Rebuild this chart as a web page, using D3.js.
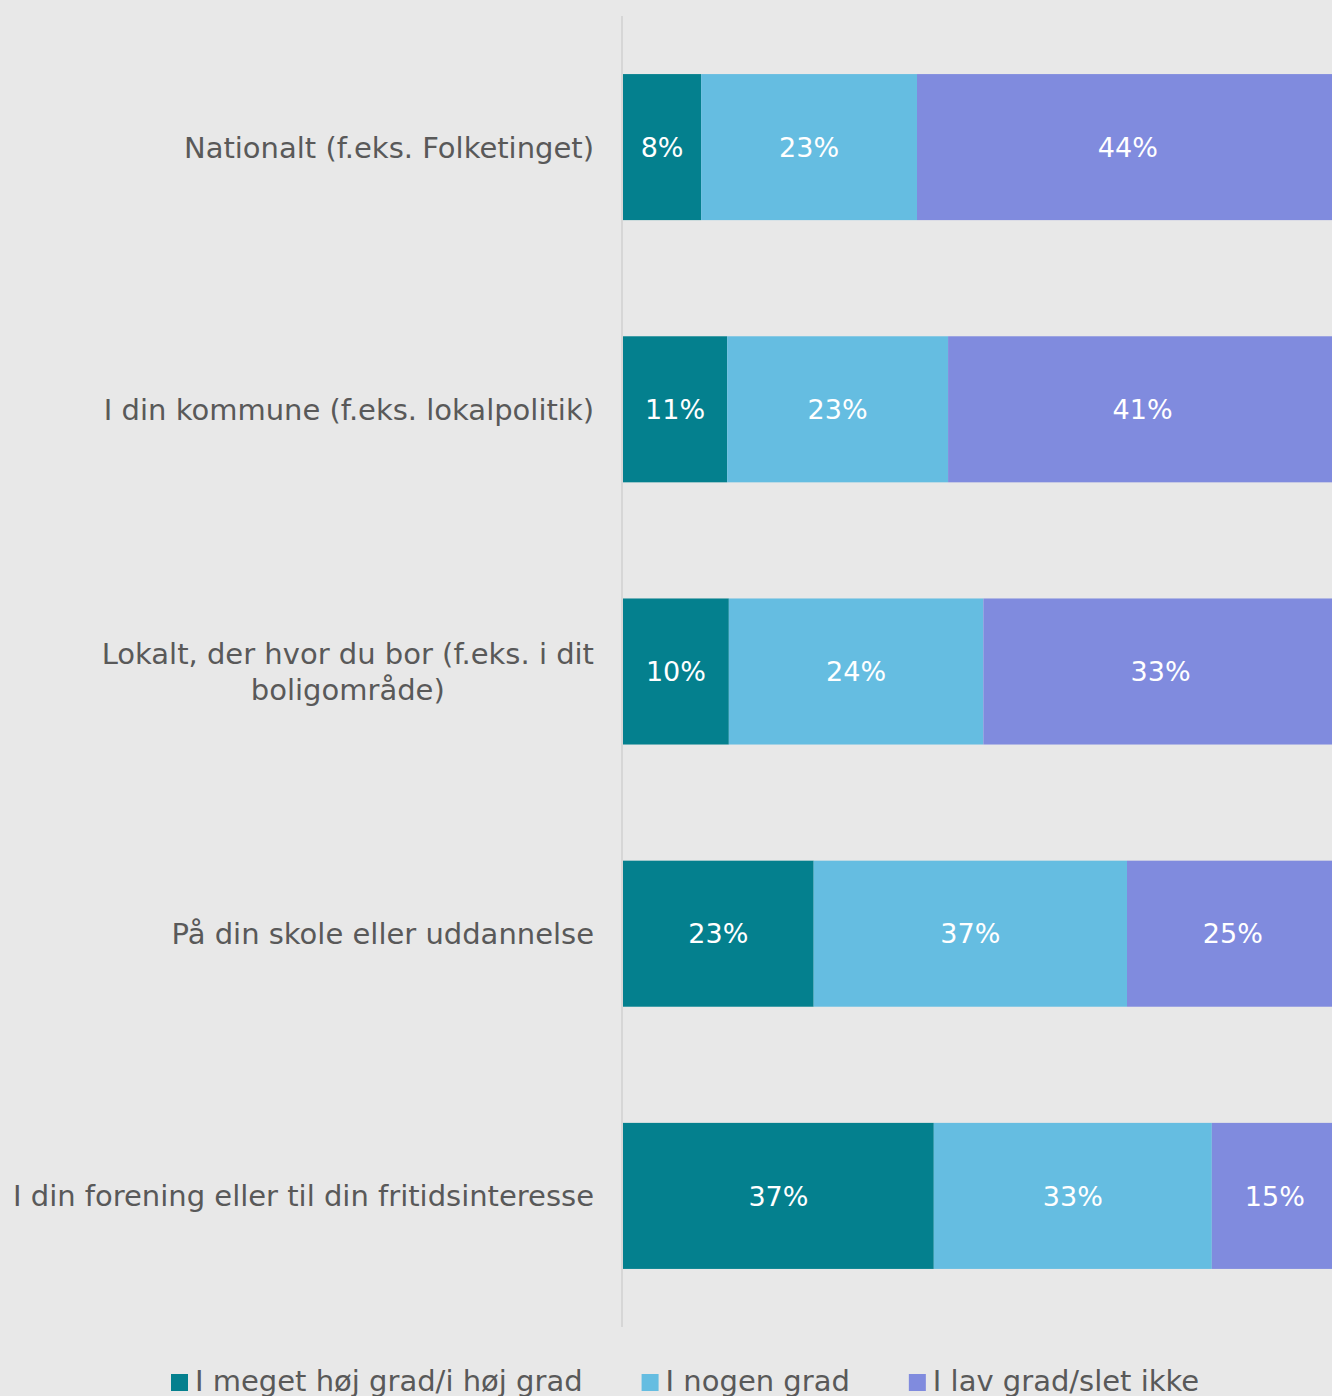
<!DOCTYPE html>
<html>
<head>
<meta charset="utf-8">
<script src="https://cdn.jsdelivr.net/npm/d3@7"></script>
<style>
  html, body { margin: 0; padding: 0; background: #e8e8e8; overflow: hidden; }
  svg { display: block; font-family: "DejaVu Sans", sans-serif; }
</style>
</head>
<body>
<div id="chart"></div>
<script>
// categories (top to bottom)
var categories = [
  "Nationalt (f.eks. Folketinget)",
  "I din kommune (f.eks. lokalpolitik)",
  "Lokalt, der hvor du bor (f.eks. i dit|boligområde)",
  "På din skole eller uddannelse",
  "I din forening eller til din fritidsinteresse"
];
var series = ["I meget høj grad/i høj grad", "I nogen grad", "I lav grad/slet ikke"];
var colors = ["#04808e", "#65bde1", "#808bde"];

// bar lengths (share of the full bar, %)
var barHigh = [9.3, 12.4, 12.6, 22.7, 37.0];
var barSome = [25.7, 26.3, 30.3, 37.3, 33.1];
var barLow  = [50.2, 46.3, 42.2, 25.2, 15.0];

// percentages printed on the bars
var lblHigh = [8, 11, 10, 23, 37];
var lblSome = [23, 23, 24, 37, 33];
var lblLow  = [44, 41, 33, 25, 15];

var W = 1332, H = 1396;
var x0 = 623;

var svg = d3.select("#chart").append("svg")
    .attr("width", W)
    .attr("height", H);

svg.append("rect").attr("width", W).attr("height", H).attr("fill", "#e8e8e8");

var x = d3.scaleLinear()
    .domain([0, 100])
    .range([x0, x0 + 840]);

var y = d3.scaleBand()
    .domain(categories)
    .range([16, 1327])
    .paddingInner(0.443)
    .paddingOuter(0.2215);

var bars = [barHigh, barSome, barLow];
var lbls = [lblHigh, lblSome, lblLow];

var rows = categories.map(function(c, i) {
  var start = 0;
  return series.map(function(s, k) {
    var seg = {cat: c, k: k, x0: start, x1: start + bars[k][i], label: lbls[k][i] + "%"};
    start += bars[k][i];
    return seg;
  });
});
var segs = d3.merge(rows);

svg.selectAll(".bar")
    .data(segs)
    .enter().append("rect")
    .attr("class", "bar")
    .attr("x", function(d) { return x(d.x0); })
    .attr("width", function(d) { return x(d.x1) - x(d.x0); })
    .attr("y", function(d) { return y(d.cat); })
    .attr("height", y.bandwidth())
    .attr("fill", function(d) { return colors[d.k]; });

svg.selectAll(".val")
    .data(segs)
    .enter().append("text")
    .attr("class", "val")
    .attr("x", function(d) { return (x(d.x0) + x(d.x1)) / 2; })
    .attr("y", function(d) { return y(d.cat) + y.bandwidth() / 2; })
    .attr("dy", "0.36em")
    .attr("text-anchor", "middle")
    .attr("fill", "#ffffff")
    .style("font-size", "27px")
    .text(function(d) { return d.label; });

// vertical axis line
svg.append("line")
    .attr("x1", x0 - 1).attr("x2", x0 - 1)
    .attr("y1", y.range()[0]).attr("y2", y.range()[1])
    .attr("stroke", "#d6d6d6")
    .attr("stroke-width", 2);

// category labels
var lab = svg.selectAll(".cat")
    .data(categories)
    .enter().append("text")
    .attr("class", "cat")
    .attr("fill", "#595959")
    .style("font-size", "29px");

lab.each(function(c) {
  var t = d3.select(this);
  var lines = c.split("|");
  var cy = y(c) + y.bandwidth() / 2;
  var lh = 36;
  lines.forEach(function(l, j) {
    t.append("tspan")
      .attr("y", cy + (j - (lines.length - 1) / 2) * lh)
      .attr("dy", "0.36em")
      .text(l);
  });
  // right aligned block, lines centered within it
  var maxW = 0;
  t.selectAll("tspan").each(function() { maxW = Math.max(maxW, this.getComputedTextLength()); });
  if (lines.length > 1) {
    t.attr("text-anchor", "middle").selectAll("tspan").attr("x", 594 - maxW / 2);
  } else {
    t.attr("text-anchor", "end").selectAll("tspan").attr("x", 594);
  }
});

// legend
var legend = svg.append("g");
var lx = 171;
series.forEach(function(s, k) {
  legend.append("rect")
    .attr("x", lx).attr("y", 1374)
    .attr("width", 17).attr("height", 17)
    .attr("fill", colors[k]);
  var t = legend.append("text")
    .attr("x", lx + 24).attr("y", 1381)
    .attr("dy", "0.36em")
    .attr("fill", "#595959")
    .style("font-size", "29px")
    .text(s);
  lx += 24 + t.node().getComputedTextLength() + 59;
});
</script>
</body>
</html>
